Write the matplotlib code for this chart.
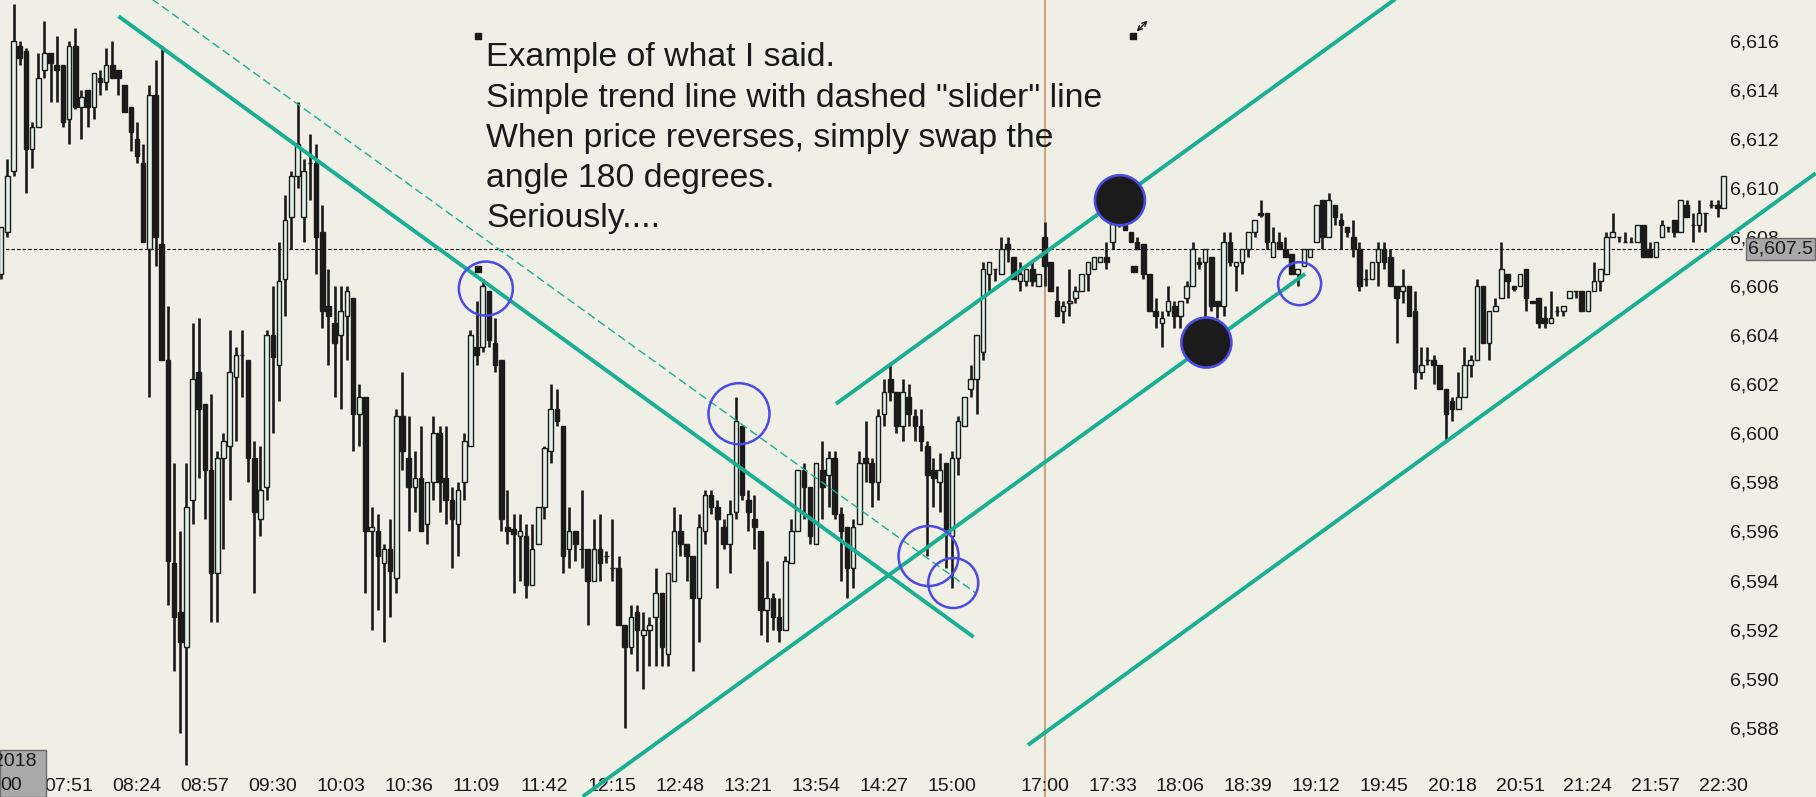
import matplotlib
matplotlib.use("Agg")
import matplotlib.pyplot as plt
import numpy as np
from matplotlib.ticker import FuncFormatter, FixedLocator
from matplotlib.patches import Rectangle
import matplotlib.transforms as mtransforms

plt.rcParams['font.family'] = ['Liberation Sans', 'DejaVu Sans']

# 3 minute bars: 07:18 .. 15:42 (0..168), then 17:00 .. 22:30 (169..279)
opens = [6606.5, 6608.2, 6610.7, 6615.8, 6615.6, 6611.6, 6612.5, 6614.8, 6615.5, 6615.0,
         6615.0, 6612.8, 6615.8, 6613.3, 6614.0, 6613.3, 6614.5, 6614.3, 6615.0, 6614.8,
         6614.2, 6613.3, 6612.0, 6611.0, 6607.5, 6613.8, 6607.7, 6603.0, 6594.7, 6592.7,
         6591.3, 6597.3, 6602.5, 6601.2, 6598.5, 6594.3, 6599.0, 6599.5, 6602.3, 6603.2,
         6603.0, 6599.0, 6596.5, 6597.8, 6604.0, 6602.8, 6606.3, 6608.8, 6610.5, 6608.8,
         6611.0, 6611.0, 6608.2, 6605.2, 6604.5, 6604.0, 6604.8, 6605.5, 6600.8, 6601.5,
         6596.0, 6596.0, 6594.7, 6595.3, 6594.1, 6600.7, 6599.0, 6597.8, 6598.2, 6596.3,
         6598.0, 6600.0, 6598.2, 6597.3, 6596.3, 6598.0, 6599.5, 6603.5, 6603.5, 6605.8,
         6603.7, 6603.0, 6596.2, 6596.1, 6595.8, 6595.8, 6593.8, 6595.5, 6597.0, 6599.3,
         6601.0, 6600.3, 6595.3, 6596.0, 6595.3, 6595.3, 6594.0, 6595.3, 6595.0, 6594.5,
         6594.5, 6592.2, 6591.3, 6592.7, 6591.8, 6592.0, 6592.5, 6593.5, 6591.0, 6594.0,
         6596.0, 6595.5, 6595.0, 6593.3, 6596.0, 6597.5, 6597.0, 6596.2, 6595.5, 6596.8,
         6600.3, 6597.3, 6596.5, 6596.0, 6592.8, 6593.3, 6592.5, 6592.0, 6594.7, 6596.0,
         6598.5, 6597.8, 6595.5, 6598.5, 6598.3, 6599.0, 6596.7, 6596.2, 6594.5, 6596.3,
         6599.0, 6598.8, 6598.0, 6600.8, 6602.2, 6601.7, 6600.3, 6601.5, 6600.7, 6600.3,
         6599.5, 6598.5, 6598.0, 6598.8, 6595.8, 6599.0, 6600.3, 6601.8, 6602.2, 6603.3,
         6606.5, 6606.7, 6606.5, 6607.7, 6607.2, 6606.2, 6606.2, 6606.7, 6606.0, 6608.0,
         6607.0, 6605.4, 6605.0, 6605.3, 6605.5, 6605.8, 6606.5, 6606.7, 6607.0, 6607.2,
         6607.8, 6609.3, 6608.6, 6608.2, 6607.8, 6607.7, 6606.5, 6605.0, 6604.5, 6605.0,
         6605.2, 6604.8, 6605.5, 6606.0, 6607.0, 6607.0, 6607.2, 6605.4, 6605.2, 6607.8,
         6606.8, 6607.0, 6607.5, 6608.2, 6609.0, 6609.0, 6607.2, 6607.8, 6607.5, 6607.3,
         6606.5, 6606.8, 6607.2, 6607.8, 6609.5, 6608.0, 6609.3, 6608.7, 6608.4, 6608.0,
         6607.5, 6606.3, 6606.3, 6607.0, 6607.5, 6607.2, 6606.0, 6605.8, 6606.0, 6605.0,
         6602.5, 6603.0, 6603.0, 6602.8, 6601.8, 6601.3, 6601.0, 6601.5, 6602.8, 6603.0,
         6606.0, 6603.7, 6605.0, 6605.5, 6606.5, 6606.0, 6606.0, 6606.7, 6605.4, 6605.5,
         6604.7, 6604.5, 6605.0, 6605.0, 6605.5, 6605.8, 6605.8, 6605.0, 6605.8, 6606.2,
         6606.5, 6608.0, 6608.0, 6607.8, 6607.8, 6607.8, 6608.5, 6607.5, 6607.2, 6608.0,
         6608.4, 6608.7, 6608.2, 6609.3, 6608.5, 6608.5, 6609.0, 6609.3, 6609.3, 6609.2]
highs = [6608.4, 6611.2, 6617.5, 6616.0, 6615.7, 6612.7, 6615.5, 6616.8, 6615.5, 6616.2,
         6615.0, 6616.0, 6616.5, 6614.0, 6614.0, 6614.7, 6614.8, 6615.7, 6616.0, 6614.8,
         6614.2, 6613.3, 6612.7, 6611.8, 6614.2, 6615.2, 6615.8, 6605.2, 6598.8, 6596.0,
         6598.8, 6604.5, 6604.7, 6601.2, 6601.6, 6599.3, 6600.0, 6604.2, 6603.5, 6604.2,
         6603.0, 6599.7, 6599.5, 6604.2, 6606.0, 6607.8, 6609.7, 6610.7, 6613.5, 6611.2,
         6612.2, 6611.8, 6609.3, 6606.7, 6606.0, 6606.0, 6606.0, 6605.5, 6602.0, 6601.5,
         6597.0, 6596.7, 6595.5, 6596.5, 6601.0, 6602.5, 6600.7, 6599.3, 6600.3, 6598.0,
         6600.7, 6600.3, 6600.3, 6597.8, 6598.0, 6600.0, 6604.2, 6605.4, 6606.3, 6605.8,
         6604.7, 6603.0, 6597.7, 6596.7, 6596.7, 6596.3, 6596.3, 6597.0, 6599.5, 6602.0,
         6601.8, 6600.3, 6597.0, 6596.0, 6597.7, 6595.3, 6596.5, 6596.7, 6595.2, 6596.5,
         6595.0, 6592.2, 6593.0, 6593.0, 6592.7, 6592.5, 6594.5, 6593.5, 6594.3, 6597.0,
         6596.7, 6595.5, 6595.0, 6596.7, 6597.7, 6597.7, 6597.3, 6596.5, 6597.3, 6601.5,
         6600.3, 6597.7, 6597.5, 6596.0, 6594.8, 6593.5, 6593.3, 6595.0, 6596.5, 6598.5,
         6598.8, 6597.8, 6598.8, 6599.7, 6599.3, 6599.3, 6597.0, 6596.2, 6596.5, 6599.3,
         6600.5, 6599.0, 6601.0, 6602.2, 6602.8, 6601.7, 6602.2, 6602.0, 6601.0, 6601.0,
         6599.7, 6599.0, 6599.2, 6598.8, 6599.3, 6600.7, 6601.5, 6602.8, 6604.0, 6607.0,
         6607.0, 6606.7, 6608.0, 6608.0, 6607.2, 6607.0, 6606.7, 6607.0, 6606.5, 6608.6,
         6607.0, 6606.0, 6605.4, 6606.7, 6606.0, 6606.5, 6607.0, 6607.2, 6607.2, 6607.8,
         6609.3, 6609.8, 6608.6, 6608.2, 6608.0, 6607.7, 6606.5, 6605.5, 6605.0, 6606.0,
         6605.4, 6605.4, 6606.2, 6607.8, 6607.2, 6607.5, 6607.2, 6605.4, 6608.2, 6608.2,
         6607.0, 6607.5, 6608.2, 6608.7, 6609.5, 6609.0, 6608.4, 6608.2, 6608.0, 6607.3,
         6606.7, 6607.5, 6607.5, 6609.3, 6609.5, 6609.8, 6609.3, 6609.0, 6608.4, 6608.7,
         6607.8, 6606.7, 6607.0, 6607.8, 6607.8, 6607.5, 6606.0, 6606.7, 6606.0, 6605.8,
         6603.5, 6603.5, 6603.2, 6602.8, 6601.8, 6601.5, 6602.5, 6603.5, 6603.2, 6606.3,
         6606.0, 6605.0, 6605.5, 6607.8, 6606.5, 6606.0, 6606.5, 6606.7, 6605.4, 6605.5,
         6605.2, 6605.8, 6605.2, 6605.2, 6605.8, 6605.8, 6605.8, 6605.8, 6607.0, 6606.7,
         6608.2, 6609.0, 6608.0, 6608.2, 6608.0, 6608.5, 6608.5, 6607.8, 6607.8, 6608.7,
         6608.4, 6608.7, 6609.5, 6609.5, 6609.0, 6609.5, 6609.0, 6609.5, 6609.5, 6610.5]
lows = [6606.3, 6608.0, 6610.5, 6615.0, 6609.8, 6610.8, 6612.5, 6614.5, 6613.5, 6613.5,
        6612.5, 6611.8, 6613.2, 6612.0, 6612.5, 6612.8, 6613.8, 6614.0, 6614.5, 6613.8,
        6613.1, 6611.5, 6611.0, 6607.8, 6601.5, 6606.8, 6603.0, 6593.0, 6590.3, 6587.8,
        6586.5, 6596.3, 6598.2, 6596.5, 6592.3, 6592.3, 6595.3, 6597.3, 6599.7, 6601.5,
        6598.0, 6593.5, 6595.8, 6597.3, 6600.0, 6601.3, 6604.8, 6607.5, 6610.0, 6607.8,
        6609.5, 6606.5, 6604.3, 6602.8, 6601.5, 6601.0, 6603.0, 6599.3, 6599.5, 6593.5,
        6592.0, 6592.8, 6591.5, 6592.5, 6593.5, 6598.5, 6596.0, 6596.8, 6596.0, 6595.5,
        6597.3, 6596.8, 6596.3, 6594.5, 6595.0, 6597.3, 6599.5, 6602.8, 6603.3, 6603.5,
        6602.5, 6596.0, 6595.5, 6593.5, 6594.0, 6593.3, 6593.8, 6595.5, 6596.5, 6598.8,
        6600.3, 6594.3, 6594.5, 6594.8, 6594.5, 6592.2, 6594.0, 6594.0, 6594.7, 6594.0,
        6592.2, 6588.0, 6591.0, 6590.3, 6589.6, 6590.5, 6590.5, 6590.5, 6590.5, 6594.0,
        6595.0, 6594.0, 6590.3, 6591.5, 6595.5, 6596.7, 6593.7, 6595.3, 6594.3, 6596.5,
        6597.3, 6596.0, 6595.3, 6591.8, 6591.5, 6592.0, 6591.5, 6592.0, 6594.7, 6596.0,
        6596.5, 6595.5, 6595.5, 6596.5, 6597.0, 6596.5, 6594.0, 6593.3, 6593.7, 6596.3,
        6598.0, 6597.0, 6597.3, 6600.3, 6601.3, 6600.0, 6599.7, 6600.3, 6599.7, 6599.3,
        6595.0, 6597.0, 6596.8, 6594.5, 6593.7, 6598.3, 6600.3, 6601.5, 6600.8, 6603.0,
        6605.8, 6606.2, 6606.5, 6607.0, 6606.3, 6605.8, 6606.0, 6606.0, 6606.0, 6606.0,
        6605.8, 6604.8, 6604.5, 6604.8, 6605.3, 6605.8, 6605.8, 6606.7, 6607.0, 6606.7,
        6607.5, 6608.4, 6608.3, 6607.8, 6607.5, 6606.3, 6605.0, 6604.3, 6603.5, 6604.8,
        6604.3, 6604.3, 6605.3, 6606.0, 6606.7, 6604.5, 6605.0, 6604.7, 6604.8, 6606.8,
        6605.8, 6606.5, 6607.2, 6608.0, 6608.8, 6607.5, 6607.2, 6607.5, 6607.2, 6606.5,
        6606.0, 6606.8, 6607.2, 6607.8, 6607.5, 6608.0, 6608.5, 6607.5, 6608.0, 6607.2,
        6605.8, 6606.0, 6606.3, 6606.0, 6606.7, 6606.0, 6603.7, 6605.3, 6604.8, 6601.8,
        6602.2, 6602.8, 6602.0, 6601.8, 6599.7, 6600.5, 6601.0, 6601.5, 6602.3, 6603.0,
        6603.7, 6603.0, 6605.0, 6605.5, 6605.5, 6605.8, 6606.0, 6605.0, 6605.3, 6604.3,
        6604.3, 6604.5, 6604.8, 6604.8, 6605.5, 6605.5, 6605.0, 6605.0, 6605.8, 6605.8,
        6606.5, 6608.0, 6607.8, 6607.8, 6607.8, 6607.8, 6607.2, 6607.2, 6607.2, 6608.0,
        6608.2, 6608.0, 6608.2, 6608.8, 6607.8, 6608.2, 6608.2, 6609.2, 6608.8, 6609.2]
closes = [6608.4, 6610.5, 6616.0, 6615.3, 6611.6, 6612.5, 6614.5, 6615.5, 6615.1, 6614.8,
          6612.7, 6615.8, 6613.3, 6613.7, 6613.3, 6614.7, 6614.3, 6615.0, 6614.5, 6614.5,
          6613.1, 6612.3, 6611.3, 6607.8, 6613.8, 6608.0, 6603.0, 6594.8, 6592.5, 6591.5,
          6597.0, 6602.2, 6601.0, 6598.5, 6594.3, 6599.0, 6599.7, 6602.5, 6603.2, 6603.2,
          6599.0, 6596.8, 6597.7, 6604.0, 6603.1, 6606.2, 6608.7, 6610.5, 6611.8, 6610.7,
          6611.0, 6608.0, 6605.0, 6604.8, 6603.7, 6605.0, 6605.8, 6600.8, 6601.5, 6596.0,
          6596.2, 6595.0, 6595.3, 6594.4, 6600.7, 6599.3, 6597.8, 6598.2, 6596.0, 6598.0,
          6600.0, 6598.0, 6597.3, 6596.5, 6597.7, 6599.7, 6604.0, 6603.2, 6606.0, 6603.8,
          6602.8, 6596.5, 6596.0, 6595.9, 6596.0, 6593.8, 6595.3, 6597.0, 6599.4, 6601.0,
          6600.5, 6595.0, 6596.0, 6595.5, 6595.3, 6594.0, 6595.3, 6594.7, 6595.0, 6594.5,
          6592.2, 6591.3, 6592.5, 6592.0, 6592.0, 6592.2, 6593.5, 6591.3, 6594.3, 6596.0,
          6595.5, 6595.0, 6593.3, 6596.2, 6597.5, 6597.0, 6596.5, 6595.5, 6596.7, 6600.5,
          6597.5, 6596.8, 6596.2, 6592.8, 6593.3, 6592.5, 6592.0, 6594.8, 6596.0, 6598.5,
          6597.8, 6595.8, 6598.8, 6597.8, 6599.0, 6596.7, 6596.0, 6594.5, 6596.2, 6598.8,
          6598.8, 6598.0, 6600.7, 6601.7, 6601.7, 6600.3, 6601.7, 6600.8, 6600.3, 6599.7,
          6598.3, 6598.2, 6598.5, 6596.0, 6599.0, 6600.5, 6601.5, 6602.2, 6604.0, 6606.7,
          6607.0, 6606.7, 6607.5, 6607.5, 6606.3, 6606.5, 6606.7, 6606.2, 6606.5, 6606.8,
          6605.8, 6604.8, 6605.2, 6605.4, 6605.8, 6606.5, 6607.0, 6607.2, 6607.2, 6607.0,
          6609.3, 6608.5, 6608.3, 6607.8, 6607.5, 6606.5, 6605.0, 6604.8, 6604.7, 6605.4,
          6604.8, 6605.4, 6606.0, 6607.5, 6606.9, 6607.5, 6605.2, 6605.2, 6607.8, 6607.0,
          6607.0, 6607.5, 6608.2, 6608.7, 6608.9, 6607.8, 6607.8, 6607.5, 6607.2, 6606.5,
          6606.7, 6607.5, 6607.5, 6609.3, 6608.0, 6609.5, 6608.8, 6608.5, 6608.2, 6607.5,
          6606.0, 6606.3, 6607.0, 6607.5, 6607.0, 6606.0, 6605.5, 6606.0, 6604.8, 6602.5,
          6602.8, 6603.0, 6602.8, 6601.8, 6600.8, 6601.0, 6601.5, 6602.8, 6603.0, 6606.0,
          6603.7, 6605.0, 6605.2, 6606.7, 6606.2, 6605.9, 6606.5, 6605.5, 6605.3, 6604.5,
          6604.5, 6604.7, 6605.0, 6605.2, 6605.8, 6605.8, 6605.0, 6605.8, 6606.2, 6606.7,
          6608.0, 6608.2, 6608.0, 6607.8, 6607.8, 6608.5, 6607.2, 6607.2, 6607.8, 6608.5,
          6608.4, 6608.2, 6609.5, 6608.8, 6608.5, 6609.0, 6609.0, 6609.3, 6609.2, 6610.5]

tick_bars = [11, 22, 33, 44, 55, 66, 77, 88, 99, 110, 121, 132, 143, 154,
             169, 180, 191, 202, 213, 224, 235, 246, 257, 268, 279]
tick_labels = ["07:51", "08:24", "08:57", "09:30", "10:03", "10:36", "11:09", "11:42",
               "12:15", "12:48", "13:21", "13:54", "14:27", "15:00",
               "17:00", "17:33", "18:06", "18:39", "19:12", "19:45", "20:18", "20:51",
               "21:24", "21:57", "22:30"]
price_ticks = [6588, 6590, 6592, 6594, 6596, 6598, 6600, 6602, 6604, 6606, 6608, 6610,
               6612, 6614, 6616]
session_bar = 169
cursor_price = 6607.5

# trend lines drawn on the chart: (bar, price) pairs
down_line_x = [19.0, 157.5]
down_line_y = [6617.0, 6591.7]
slider_x = [24.4, 157.8]
slider_y = [6617.7, 6593.5]
up_lines_x = [[94.2, 211.2], [135.2, 225.8], [166.3, 293.9]]
up_lines_y = [[6585.2, 6606.5], [6601.2, 6617.7], [6587.3, 6610.6]]

# circled spots
ring_x = [78.5, 119.5, 150.2, 154.2, 210.3]
ring_y = [6605.9, 6600.8, 6595.0, 6593.9, 6606.1]
ring_r = [27, 30.5, 30, 25, 21.5]
dot_x = [181.2, 195.2]
dot_y = [6609.5, 6603.7]
dot_r = [25, 25]
handle_x = [77.2, 77.2, 183.4, 183.3]
handle_y = [6616.2, 6606.7, 6606.7, 6616.2]

note = ('Example of what I said.\n'
        'Simple trend line with dashed "slider" line\n'
        'When price reverses, simply swap the\n'
        'angle 180 degrees.\n'
        'Seriously....')

bg = '#efefe5'
teal = '#1aae93'
blue = '#4b4be3'
ink = '#1b1b1b'

fig = plt.figure(figsize=(18.16, 7.97), dpi=100)
fig.patch.set_facecolor(bg)
ax = fig.add_axes([0, 0, 1, 1])
ax.set_facecolor(bg)
for s in ax.spines.values():
    s.set_visible(False)

o = np.array(opens)
h = np.array(highs)
l = np.array(lows)
c = np.array(closes)
x = np.arange(len(o))
up = c >= o

ax.axvline(session_bar, color='#c9a67f', lw=1.5, zorder=1)
ax.axhline(cursor_price, xmax=0.96, color='black', lw=0.8, ls=(0, (3, 2)), zorder=1.5)

ax.vlines(x, l, h, color=ink, lw=1.9, zorder=2)
body_lo = np.minimum(o, c)
body_h = np.abs(c - o)
ax.bar(x[up], body_h[up], bottom=body_lo[up], width=0.74, facecolor='#e2f1e8',
       edgecolor=ink, lw=1.0, zorder=3)
ax.bar(x[~up], body_h[~up], bottom=body_lo[~up], width=0.74, facecolor=ink,
       edgecolor=ink, lw=1.0, zorder=3)

ax.plot(down_line_x, down_line_y, color=teal, lw=2.8, solid_capstyle='butt', zorder=4)
ax.plot(slider_x, slider_y, color=teal, lw=1.0, ls=(0, (6, 3)), zorder=4)
for lx, ly in zip(up_lines_x, up_lines_y):
    ax.plot(lx, ly, color=teal, lw=2.8, solid_capstyle='butt', zorder=4, clip_on=False)

px2pt = 0.72
ax.scatter(ring_x, ring_y, s=[(2 * r * px2pt) ** 2 for r in ring_r], facecolors='none',
           edgecolors=blue, linewidths=1.8, zorder=5)
ax.scatter(dot_x, dot_y, s=[(2 * r * px2pt) ** 2 for r in dot_r], facecolors=ink,
           edgecolors=blue, linewidths=1.9, zorder=5)
ax.scatter(handle_x, handle_y, marker='s', s=22, color=ink, zorder=6)
ax.annotate('', xy=(186.0, 6616.9), xytext=(183.6, 6616.3),
            arrowprops=dict(arrowstyle='<->', color=ink, lw=1.0,
                            mutation_scale=8), zorder=6)

ax.text(78.6, 6615.93, note, ha='left', va='top', fontsize=24.3, color='#1a1a1a',
        linespacing=1.385, zorder=6)

ax.set_xlim(-0.19, 293.94)
ax.set_ylim(6585.18, 6617.66)

ax.xaxis.set_major_locator(FixedLocator(tick_bars))
ax.set_xticklabels(tick_labels)
ax.tick_params(axis='x', length=0, pad=-13.8, labelsize=14, labelcolor='#1a1a1a')
ax.yaxis.tick_right()
ax.yaxis.set_major_locator(FixedLocator(price_ticks))
ax.yaxis.set_major_formatter(FuncFormatter(lambda v, p: f"{v:,.0f}"))
ax.tick_params(axis='y', length=0, pad=-62, labelsize=14, labelcolor='#1a1a1a')

blend = mtransforms.blended_transform_factory(ax.transAxes, ax.transData)
ax.text(0.9625, cursor_price, f"{cursor_price:,.1f}", transform=blend, ha='left',
        va='center', fontsize=14, color='#1a1a1a', zorder=10,
        bbox=dict(boxstyle='square,pad=0.12', fc='#a9a9a9', ec='#6a6a6a', lw=1))

fig.patches.append(Rectangle((0, 0), 46 / 1816, 47 / 797, transform=fig.transFigure,
                             facecolor='#a9a9a9', edgecolor='#6a6a6a', lw=1))
fig.text(36 / 1816, 1 - 761 / 797, "2018", ha='right', va='center', fontsize=14,
         color='#1a1a1a')
fig.text(22 / 1816, 1 - 785 / 797, "00", ha='right', va='center', fontsize=14,
         color='#1a1a1a')

fig.savefig('out.png', dpi=100, facecolor=bg)
